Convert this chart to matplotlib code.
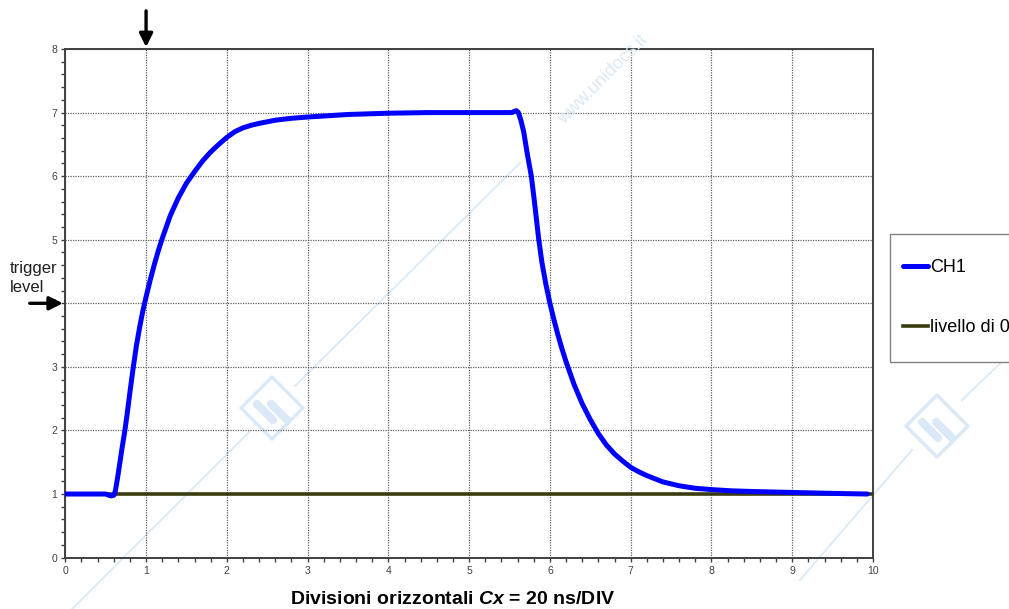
import matplotlib
matplotlib.use("Agg")
import matplotlib.pyplot as plt
from matplotlib.ticker import MultipleLocator
from matplotlib.lines import Line2D
from matplotlib.patches import Polygon, Rectangle

plt.rcParams['font.family'] = ['Liberation Sans', 'DejaVu Sans']
plt.rcParams['mathtext.fontset'] = 'custom'
plt.rcParams['mathtext.it'] = 'Liberation Sans:bold:italic'
plt.rcParams['mathtext.rm'] = 'Liberation Sans:bold'

# ---- data ----
ch1_x = [0.00, 0.50, 0.54, 0.57, 0.60, 0.62, 0.64, 0.66, 0.68, 0.70, 0.72, 0.74,
         0.77, 0.80, 0.84, 0.88, 0.92, 0.96, 1.00, 1.05, 1.10, 1.15, 1.20, 1.30,
         1.40, 1.50, 1.60, 1.70, 1.80, 1.90, 2.00, 2.10, 2.20, 2.30, 2.40, 2.60,
         2.80, 3.00, 3.25, 3.50, 4.00, 4.50, 5.00, 5.53, 5.56, 5.585, 5.61, 5.64,
         5.675, 5.72, 5.77, 5.81, 5.86, 5.90, 5.95, 6.00, 6.05, 6.10, 6.15, 6.20,
         6.25, 6.30, 6.40, 6.50, 6.60, 6.70, 6.80, 6.90, 7.00, 7.10, 7.20, 7.30,
         7.40, 7.50, 7.60, 7.70, 7.80, 8.00, 8.25, 8.50, 9.00, 9.50, 9.93]
ch1_y = [1.00, 1.00, 0.98, 0.97, 0.98, 1.05, 1.20, 1.36, 1.53, 1.70, 1.86, 2.02,
         2.30, 2.60, 2.98, 3.33, 3.62, 3.88, 4.10, 4.36, 4.60, 4.82, 5.02, 5.38,
         5.66, 5.89, 6.07, 6.24, 6.38, 6.50, 6.61, 6.70, 6.76, 6.80, 6.83, 6.88,
         6.91, 6.93, 6.95, 6.97, 6.99, 7.00, 7.00, 7.00, 7.02, 7.03, 7.00, 6.88,
         6.70, 6.35, 6.00, 5.58, 5.02, 4.65, 4.30, 4.00, 3.74, 3.50, 3.28, 3.08,
         2.90, 2.72, 2.42, 2.17, 1.95, 1.77, 1.63, 1.52, 1.42, 1.35, 1.29, 1.24,
         1.19, 1.16, 1.13, 1.11, 1.09, 1.07, 1.05, 1.04, 1.025, 1.01, 1.00]
zero_x = [0, 10]
zero_y = [1, 1]
series_labels = ["CH1", "livello di 0"]
x_ticks = list(range(0, 11))
y_ticks = list(range(0, 9))
xlabel_text = r"Divisioni orizzontali $Cx$ = 20 ns/DIV"
trigger_level = 4
trigger_time = 1

W, H = 1009, 609
fig = plt.figure(figsize=(W / 100, H / 100), dpi=100)
ax = fig.add_axes([65.3 / W, 1 - 557.6 / H, (873 - 65.3) / W, (557.6 - 49) / H])


def fp(x, y):
    return (x / W, 1 - y / H)


# ---- faint watermark decorations (figure coords) ----
wm = '#dbe9f6'
for (x0, y0, x1, y1) in [(72, 609, 250, 431), (295, 386, 520, 163),
                         (800, 580, 912, 450), (962, 400, 1009, 355)]:
    a, b = fp(x0, y0), fp(x1, y1)
    fig.add_artist(Line2D([a[0], b[0]], [a[1], b[1]], color=wm, lw=1.3, zorder=0))
for (cx, cy) in [(272, 408), (937, 426)]:
    r = 31
    fig.add_artist(Polygon([fp(cx, cy - r), fp(cx + r, cy), fp(cx, cy + r), fp(cx - r, cy)],
                           closed=True, fill=False, edgecolor=wm, lw=2.5, zorder=0,
                           joinstyle='round'))
    for dx in (-7, 7):
        a, b = fp(cx + dx - 8, cy - 8 + 4), fp(cx + dx + 8, cy + 8 + 4)
        fig.add_artist(Line2D([a[0], b[0]], [a[1], b[1]], color=wm, lw=6,
                              solid_capstyle='round', zorder=0))
fig.text(603 / W, 1 - 80 / H, "www.unidocs.it", color=wm, fontsize=13, rotation=45,
         ha='center', va='center', zorder=0)

ax.set_facecolor('none')
ax.plot(zero_x, zero_y, color='#3b3b10', lw=2.6, label=series_labels[1], zorder=3)
ax.plot(ch1_x, ch1_y, color='#0000ff', lw=3.6, label=series_labels[0], zorder=4,
        solid_capstyle='round', solid_joinstyle='round')

ax.set_xlim(0, 10)
ax.set_ylim(0, 8)
ax.set_xticks(x_ticks)
ax.set_yticks(y_ticks)
ax.xaxis.set_minor_locator(MultipleLocator(0.2))
ax.yaxis.set_minor_locator(MultipleLocator(0.2))
ax.grid(True, which='major', color='#606060', linestyle=(0, (1, 1)), lw=0.9)
ax.tick_params(which='both', direction='out', length=3, width=1, color='#404040',
               labelsize=7.5, labelcolor='#404040', pad=3)
for s in ax.spines.values():
    s.set_color('#404040')
    s.set_linewidth(1.4)

fig.text(453 / W, 1 - 600 / H, xlabel_text, fontsize=14, fontweight='bold',
         ha='center', va='center')

# arrows
ax.annotate('', xy=(trigger_time, 8.03), xytext=(trigger_time, 8.6),
            xycoords='data', textcoords='data', annotation_clip=False,
            arrowprops=dict(arrowstyle='-|>', color='black', lw=2.4, mutation_scale=20,
                            shrinkA=0, shrinkB=0))
ax.annotate('', xy=(-0.03, trigger_level), xytext=(-0.44, trigger_level),
            xycoords='data', textcoords='data', annotation_clip=False,
            arrowprops=dict(arrowstyle='-|>', color='black', lw=2.4, mutation_scale=20,
                            shrinkA=0, shrinkB=0))
fig.text(10 / W, 1 - 278 / H, "trigger\nlevel", fontsize=12, ha='left', va='center',
         linespacing=1.3, color='#202020')

# legend: frame drawn as a rectangle, entries from the plotted lines
x0, y0 = fp(890, 362)
fig.add_artist(Rectangle((x0, y0), 130 / W, 128 / H, fill=True, facecolor='white',
                         edgecolor='#808080', lw=1.0, zorder=5))
handles, labels = ax.get_legend_handles_labels()
leg = fig.legend([handles[1], handles[0]], [labels[1], labels[0]],
                 loc='upper left', bbox_to_anchor=(903 / W, 1 - 259 / H),
                 frameon=False, fontsize=13,
                 handlelength=1.4, handletextpad=0.1,
                 labelspacing=2.38, borderpad=0, borderaxespad=0)
leg.set_zorder(6)

fig.savefig('out.png', dpi=100)
